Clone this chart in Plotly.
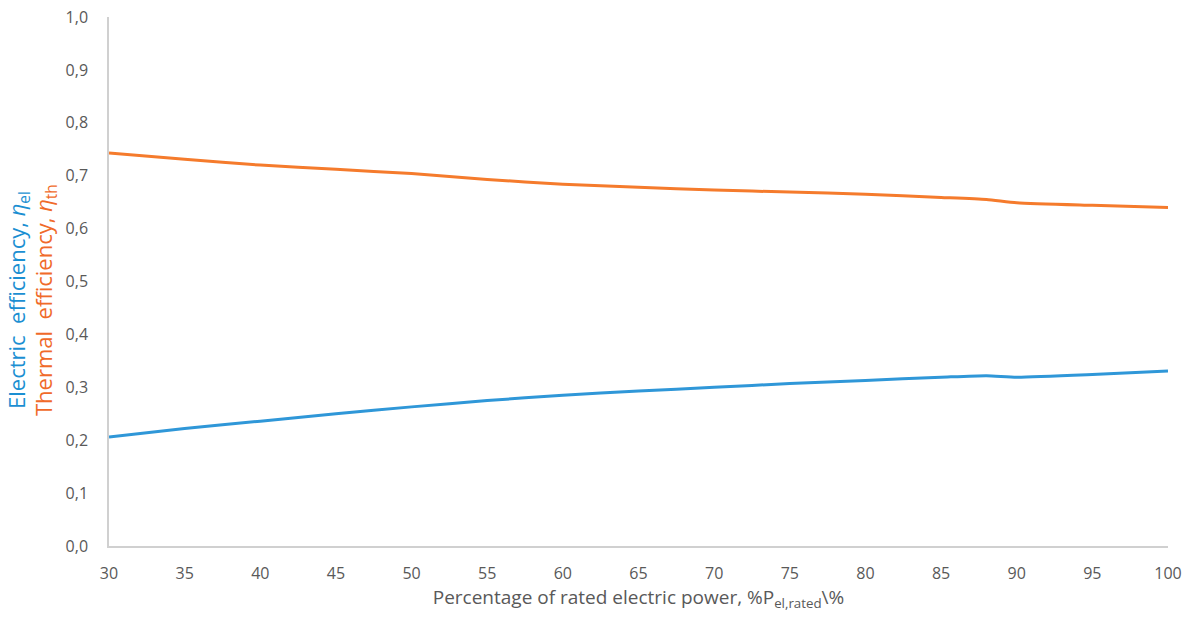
import plotly.graph_objects as go

power_pct = [30, 35, 40, 45, 50, 55, 60, 65, 70, 75, 80, 85, 88, 90, 95, 100]
eta_el = [0.206, 0.222, 0.236, 0.250, 0.263, 0.275, 0.285, 0.293, 0.300, 0.307, 0.313, 0.319, 0.322, 0.319, 0.324, 0.331]
eta_th = [0.743, 0.731, 0.720, 0.712, 0.704, 0.693, 0.684, 0.678, 0.673, 0.669, 0.665, 0.659, 0.655, 0.649, 0.644, 0.640]
x_ticks = [30, 35, 40, 45, 50, 55, 60, 65, 70, 75, 80, 85, 90, 95, 100]

BLUE = "#2f97d8"
ORANGE = "#f57b2c"
TXT = "#595959"
FONT = "Open Sans"

fig = go.Figure()
fig.add_trace(go.Scatter(x=power_pct, y=eta_el, mode="lines", line=dict(color=BLUE, width=3, shape="spline", smoothing=0.6), showlegend=False))
fig.add_trace(go.Scatter(x=power_pct, y=eta_th, mode="lines", line=dict(color=ORANGE, width=3, shape="spline", smoothing=0.6), showlegend=False))

fig.update_layout(
    width=1189, height=618,
    margin=dict(l=109, r=21, t=17, b=72, autoexpand=False),
    paper_bgcolor="white", plot_bgcolor="white",
    separators=",.",
    font=dict(family=FONT, color=TXT, size=16),
    xaxis=dict(range=[30, 100], tickvals=x_ticks, showgrid=False, zeroline=False,
               showline=True, linecolor="#d0d0d0", linewidth=1.5, ticks="",
               automargin=False, ticklabelstandoff=12,
               tickfont=dict(size=16, color=TXT),
               title=dict(text="Percentage of rated electric power, %P<sub>el,rated</sub>\\%",
                          font=dict(size=19, color=TXT), standoff=8)),
    yaxis=dict(range=[0, 1], dtick=0.1, tickformat=".1f", showgrid=False, zeroline=False,
               showline=True, linecolor="#d0d0d0", linewidth=1.5, ticks="",
               automargin=False, ticklabelstandoff=16,
               tickfont=dict(size=16, color=TXT)),
)

fig.add_annotation(text="Electric  efficiency, <i>η</i><sub>el</sub>", xref="paper", yref="paper",
                   x=0, y=(546 - 300) / 529, xshift=-91, textangle=-90, showarrow=False,
                   xanchor="center", yanchor="middle", font=dict(size=22, color="#1b8fd2", family=FONT))
fig.add_annotation(text="Thermal  efficiency, <i>η</i><sub>th</sub>", xref="paper", yref="paper",
                   x=0, y=(546 - 300) / 529, xshift=-64, textangle=-90, showarrow=False,
                   xanchor="center", yanchor="middle", font=dict(size=22, color="#f06a2a", family=FONT))

fig.write_html("out.html")
